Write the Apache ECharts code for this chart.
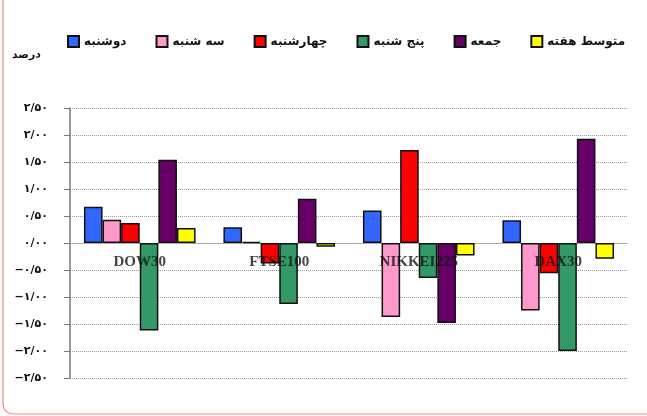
<!DOCTYPE html>
<html>
<head>
<meta charset="utf-8">
<script src="https://cdn.jsdelivr.net/npm/echarts@6/dist/echarts.min.js"></script>
<style>html,body{margin:0;padding:0;background:#fff;}#c{width:647px;height:416px;}</style>
</head>
<body>
<div id="c"></div>
<script>
var categories = ['DOW30', 'FTSE100', 'NIKKEI225', 'DAX30'];
var seriesNames = ['دوشنبه', 'سه شنبه', 'چهارشنبه', 'پنج شنبه', 'جمعه', 'متوسط هفته'];
var monday    = [0.67, 0.29, 0.60, 0.42];
var tuesday   = [0.43, 0.02, -1.37, -1.25];
var wednesday = [0.37, -0.38, 1.72, -0.56];
var thursday  = [-1.62, -1.13, -0.65, -2.00];
var friday    = [1.54, 0.82, -1.48, 1.93];
var weekAvg   = [0.28, -0.07, -0.23, -0.29];
var colors = ['#3366FF', '#FF99CC', '#FF0000', '#339966', '#660066', '#FFFF00'];
var yMin = -2.5, yMax = 2.5, yStep = 0.5;

var allData = [monday, tuesday, wednesday, thursday, friday, weekAvg];
var faDigits = '۰۱۲۳۴۵۶۷۸۹';
function toFa(v) {
  var s = Math.abs(v).toFixed(2).replace('.', '/');
  s = s.replace(/[0-9]/g, function (d) { return faDigits[+d]; });
  return (v < -1e-9 ? '\u2212' : '') + s;
}

var chart = echarts.init(document.getElementById('c'), null, {renderer: 'canvas'});
var series = seriesNames.map(function (n, i) {
  return {
    name: n,
    type: 'bar',
    data: allData[i],
    barGap: '0%',
    barCategoryGap: '20%',
    itemStyle: {color: colors[i], borderColor: '#111', borderWidth: 1.5},
    emphasis: {disabled: true}
  };
});
// category names drawn at the zero line
series.push({
  name: 'labels',
  type: 'scatter',
  silent: true,
  z: 10,
  symbolSize: 0,
  data: categories.map(function (c, i) { return [i, 0]; }),
  label: {
    show: true, position: 'bottom', distance: 12,
    formatter: function (p) { return categories[p.dataIndex]; },
    fontFamily: 'Liberation Serif', fontWeight: 'bold', fontSize: 15, color: '#111'
  }
});

chart.setOption({
  animation: false,
  backgroundColor: '#fff',
  grid: {left: 70, right: 19, top: 108, bottom: 38, containLabel: false},
  legend: {
    data: seriesNames,
    left: 62, top: 30,
    itemWidth: 11, itemHeight: 11, itemGap: 29,
    icon: 'rect',
    textStyle: {fontSize: 12, fontWeight: 'bold', color: '#111', fontFamily: 'DejaVu Sans'}
  },
  xAxis: {
    type: 'category',
    data: categories,
    axisLine: {show: true, onZero: true, lineStyle: {color: '#999', type: 'dotted', width: 1}},
    axisTick: {show: false},
    axisLabel: {show: false}
  },
  yAxis: {
    type: 'value',
    min: yMin, max: yMax, interval: yStep,
    axisLine: {show: true, lineStyle: {color: '#777', width: 1.5}},
    axisTick: {show: true, length: 6, lineStyle: {color: '#777'}},
    splitLine: {show: true, lineStyle: {color: '#999', type: 'dotted', width: 1}},
    axisLabel: {
      margin: 22, fontSize: 11, fontWeight: 'bold', color: '#111', fontFamily: 'DejaVu Sans',
      padding: [0, 0, 8, 0],
      formatter: function (v) { return toFa(v); }
    }
  },
  graphic: [
    {type: 'text', left: 12, top: 50, style: {text: 'درصد', fontSize: 11, fontWeight: 'bold', fill: '#111', fontFamily: 'DejaVu Sans'}},
    {type: 'rect', shape: {x: 3, y: -20, width: 652, height: 434, r: 10}, style: {fill: 'none', stroke: '#ee8888', lineWidth: 1.2}, z: -1}
  ],
  series: series
});
</script>
</body>
</html>
